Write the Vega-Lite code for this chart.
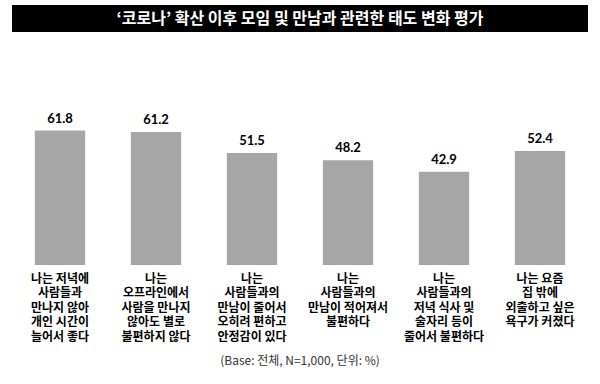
{
  "$schema": "https://vega.github.io/schema/vega-lite/v6.json",
  "padding": {"left": 12, "top": 5, "right": 12, "bottom": 0},
  "background": "white",
  "config": {"font": "Noto Sans CJK KR", "view": {"stroke": null}},
  "spacing": 59,
  "vconcat": [
    {
      "width": 576,
      "height": 27,
      "view": {"fill": "black", "stroke": null},
      "data": {"values": [{"t": "‘코로나’ 확산 이후 모임 및 만남과 관련한 태도 변화 평가"}]},
      "mark": {"type": "text", "color": "white", "fontSize": 16, "fontWeight": "bold", "font": "Noto Sans CJK KR"},
      "encoding": {"text": {"field": "t"}}
    },
    {
      "width": 576,
      "height": 174,
      "data": {"values": [
        {"item": "나는 저녁에\n사람들과\n만나지 않아\n개인 시간이\n늘어서 좋다", "value": 61.8, "order": 1},
        {"item": "나는\n오프라인에서\n사람을 만나지\n않아도 별로\n불편하지 않다", "value": 61.2, "order": 2},
        {"item": "나는\n사람들과의\n만남이 줄어서\n오히려 편하고\n안정감이 있다", "value": 51.5, "order": 3},
        {"item": "나는\n사람들과의\n만남이 적어져서\n불편하다", "value": 48.2, "order": 4},
        {"item": "나는\n사람들과의\n저녁 식사 및\n술자리 등이\n줄어서 불편하다", "value": 42.9, "order": 5},
        {"item": "나는 요즘\n집 밖에\n외출하고 싶은\n욕구가 커졌다", "value": 52.4, "order": 6}
      ]},
      "title": {"text": "(Base: 전체, N=1,000, 단위: %)", "orient": "bottom", "fontSize": 12, "fontWeight": "normal", "color": "#333333", "offset": 14, "anchor": "middle", "dx": 0},
      "encoding": {
        "x": {
          "field": "item", "type": "nominal", "sort": {"field": "order"},
          "scale": {"paddingInner": 0.476, "paddingOuter": 0.238},
          "axis": {
            "title": null, "domain": false, "ticks": false, "labelAngle": 0,
            "labelExpr": "split(datum.label, '\\n')", "labelFontSize": 12,
            "labelColor": "black", "labelLineHeight": 14.6, "labelPadding": 8,
            "labelFont": "Noto Sans CJK KR", "labelFontWeight": "bold"
          }
        },
        "y": {"field": "value", "type": "quantitative", "scale": {"domain": [0, 80]}, "axis": null}
      },
      "layer": [
        {"mark": {"type": "bar", "color": "#a6a6a6"}},
        {
          "mark": {"type": "text", "baseline": "bottom", "dy": -5, "fontSize": 13, "fontWeight": "bold", "color": "black", "font": "Lato"},
          "encoding": {"text": {"field": "value", "type": "quantitative", "format": ".1f"}}
        }
      ]
    }
  ]
}
